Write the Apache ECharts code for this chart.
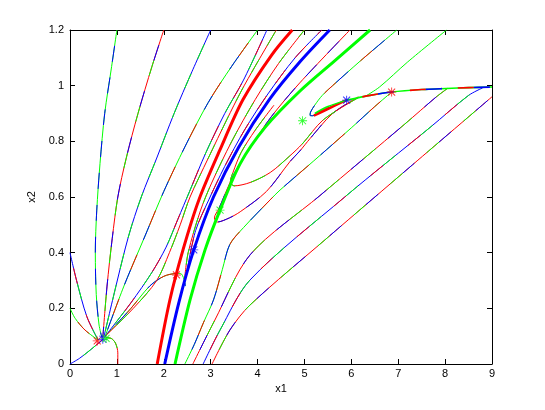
<!DOCTYPE html>
<html>
<head>
<meta charset="utf-8">
<script src="https://cdn.jsdelivr.net/npm/echarts@6/dist/echarts.min.js"></script>
<style>
html, body { margin: 0; padding: 0; background: #fff; }
#chart { width: 545px; height: 410px; }
</style>
</head>
<body>
<div id="chart"></div>
<script>
// thick separatrices
const thickRed   = [[1.86,0],[2.13,0.23],[2.41,0.41],[2.75,0.59],[3.2,0.77],[3.69,0.95],[4.3,1.11],[4.74,1.2]]
const thickBlue  = [[2.02,0],[2.32,0.22],[2.64,0.41],[3.06,0.6],[3.6,0.78],[4.25,0.95],[4.9,1.085],[5.54,1.2]]
const thickGreen = [[2.24,0],[2.56,0.23],[2.88,0.41],[3.2,0.553],[3.63,0.72],[4.16,0.85],[4.9,0.98],[5.65,1.09],[6.4,1.2]]

// curves into the node near (0.7, 0.09)
const n1 = [[1.0,1.2],[0.88,1.06],[0.74,0.9],[0.64,0.72],[0.57,0.55],[0.54,0.4],[0.56,0.25],[0.62,0.14],[0.68,0.095]]
const n2 = [[2.0,1.2],[1.75,1.07],[1.45,0.9],[1.2,0.74],[1.02,0.6],[0.9,0.45],[0.79,0.28],[0.7,0.095]]
const n3 = [[3.0,1.2],[2.6,1.05],[2.22,0.9],[1.85,0.74],[1.52,0.6],[1.25,0.46],[0.98,0.28],[0.72,0.095]]
const n4 = [[4.0,1.2],[3.45,1.07],[2.95,0.94],[2.45,0.78],[2.0,0.62],[1.6,0.46],[1.15,0.28],[0.74,0.095]]
const w1 = [[0,0.4],[0.14,0.3],[0.36,0.17],[0.6,0.086]]
const w2 = [[0,0.2],[0.11,0.164],[0.32,0.122],[0.6,0.086]]
const w3 = [[0,0],[0.2,0.02],[0.43,0.05],[0.7,0.088]]
const w4 = [[1.02,0],[1.02,0.04],[0.97,0.075],[0.88,0.092],[0.77,0.095]]

// bundle leaving the node to the upper right
const b1 = [[0.75,0.1],[1.3,0.2],[1.7,0.28],[2.0,0.315],[2.27,0.325],[2.36,0.325],[2.43,0.305],[2.46,0.28]]
const b2 = [[0.75,0.1],[1.3,0.22],[1.75,0.33],[2.05,0.42],[2.3,0.52],[2.55,0.62],[2.9,0.76],[3.3,0.9],[3.7,1.02],[4.2,1.2]]
const b3 = [[0.75,0.1],[1.35,0.2],[1.85,0.3],[2.12,0.4],[2.35,0.5],[2.56,0.6],[2.95,0.74],[3.35,0.88],[3.65,0.98],[3.95,1.07],[4.4,1.2]]
const m1 = [[2.44,0.3],[2.52,0.4],[2.78,0.55],[3.02,0.65],[3.45,0.8],[3.95,0.95],[4.45,1.08],[5.0,1.2]]
const m2 = [[2.5,0.34],[2.68,0.48],[2.96,0.59],[3.3,0.71],[3.72,0.84],[4.22,0.97],[4.8,1.1],[5.37,1.2]]

// loops near the green star, then up to the spindle
const loop1 = [[5.97,1.2],[4.9,1.01],[4.3,0.89],[3.85,0.78],[3.52,0.69],[3.33,0.62],[3.18,0.56],[3.08,0.525],[3.14,0.51],[3.4,0.525],[3.63,0.547],[4.19,0.62],[4.69,0.727],[4.9,0.765],[5.12,0.81],[5.6,0.9],[6.15,0.96]]
const loop2 = [[4.35,0.93],[3.95,0.84],[3.65,0.76],[3.48,0.69],[3.42,0.655],[3.5,0.64],[3.84,0.652],[4.27,0.688],[4.69,0.748],[4.95,0.79],[5.4,0.877],[6.15,0.957]]
const g1 = [[6.97,1.2],[6.2,1.09],[5.6,1.0],[5.38,0.965],[5.22,0.93],[5.13,0.905],[5.12,0.893],[5.18,0.892],[5.3,0.905],[5.6,0.928],[5.9,0.948]]
const g2 = [[8.03,1.2],[7.2,1.085],[6.6,0.995],[6.3,0.962]]
const topCurve = [[5.9,0.948],[6.4,0.965],[6.86,0.977],[7.5,0.986],[8.03,0.99],[8.5,0.993],[9.0,0.995]]
const spindleRed = [[5.2,0.892],[5.45,0.912],[5.7,0.933],[5.9,0.948]]
const spindleGreen = [[5.22,0.9],[5.5,0.925],[5.9,0.948]]

// lower right family
const a1 = [[2.45,0],[2.65,0.07],[2.85,0.15],[3.06,0.23],[3.25,0.34],[3.41,0.43],[3.7,0.49],[4.27,0.59],[4.48,0.625],[5.2,0.73],[6.01,0.85],[6.5,0.925],[6.86,0.977]]
const a2 = [[2.62,0],[3.09,0.158],[3.84,0.392],[5.33,0.605],[7.14,0.862],[7.8,0.958],[8.05,0.99]]
const a3 = [[2.84,0],[3.2,0.122],[3.84,0.302],[5.86,0.6],[7.68,0.85],[8.5,0.965],[8.8,0.992]]
const a4 = [[3.03,0],[3.41,0.122],[3.84,0.212],[5.5,0.455],[7.3,0.715],[9.0,0.96]]

// equilibria
const starsRed   = [[0.58,0.083],[2.27,0.32],[6.86,0.977]]
const starsBlue  = [[0.7,0.089],[2.64,0.41],[5.9,0.948]]
const starsGreen = [[0.77,0.092],[3.2,0.553],[4.96,0.874]]

const R = '#ff0000', G = '#00ff00', B = '#0000ff'
const starPath = 'path://M0 9H20V11H0Z M9 0H11V20H9Z M1.5 3L3 1.5L18.5 17L17 18.5Z M17 1.5L18.5 3L3 18.5L1.5 17Z'

const series = []
const addTrace = (pts, colors, width, z) => {
    const n = colors.length
    const d = 16
    series.push({
        type: 'line', data: pts, showSymbol: false, smooth: 0.3, silent: true, z: z,
        lineStyle: { color: colors[0], width: width }
    })
    for (let i = 1; i < n; i++) {
        series.push({
            type: 'line', data: pts, showSymbol: false, smooth: 0.3, silent: true, z: z,
            lineStyle: { color: colors[i], width: width, type: [d, d * (n - 1)], dashOffset: i * d }
        })
    }
}

addTrace(n1, [G, B], 1, 2)
addTrace(n2, [R, G, B], 1, 2)
addTrace(n3, [B, G], 1, 2)
addTrace(n4, [G, B, R], 1, 2)
addTrace(w1, [B, G, R], 1, 2)
addTrace(w2, [G, R], 1, 2)
addTrace(w3, [B, R, G], 1, 2)
addTrace(w4, [R, B, G], 1, 2)
addTrace(b1, [G, R, B], 1, 2)
addTrace(b2, [B, R, G], 1, 2)
addTrace(b3, [R, G], 1, 2)
addTrace(m1, [R, G], 1, 2)
addTrace(m2, [B, R], 1, 2)
addTrace(loop1, [R, B], 1, 2)
addTrace(loop2, [R, G], 1, 2)
addTrace(g1, [G, R, B], 1, 2)
addTrace(g2, [G], 1, 2)
addTrace(a1, [G, R, B], 1, 2)
addTrace(a2, [R, G, B], 1, 2)
addTrace(a3, [B, G, R], 1, 2)
addTrace(a4, [R, B, G], 1, 2)
addTrace(topCurve, [G, B, R], 1.6, 3)
addTrace(spindleRed, [R], 2.5, 3)
addTrace(spindleGreen, [G], 1.5, 3)
addTrace(thickRed, [R], 3, 4)
addTrace(thickBlue, [B], 3, 4)
addTrace(thickGreen, [G], 3, 4)

const addStars = (pts, color) => {
    series.push({
        type: 'scatter', data: pts, symbol: starPath, symbolSize: 9, silent: true, z: 5,
        itemStyle: { color: color }
    })
}
addStars(starsRed, R)
addStars(starsBlue, B)
addStars(starsGreen, G)

const axisFont = { color: '#000', fontSize: 11, fontFamily: 'Liberation Sans, Arial, sans-serif' }
const boxLine = { show: true, onZero: false, lineStyle: { color: '#000', width: 1 } }
const tickIn = { show: true, inside: true, length: 5, lineStyle: { color: '#000' } }

const option = {
    animation: false,
    backgroundColor: '#fff',
    grid: { left: 70, right: 53, top: 30, bottom: 46 },
    xAxis: [
        {
            type: 'value', min: 0, max: 9, interval: 1, position: 'bottom',
            name: 'x1', nameLocation: 'middle', nameGap: 18, nameTextStyle: axisFont,
            axisLine: boxLine, axisTick: tickIn, splitLine: { show: false },
            axisLabel: Object.assign({ margin: 4 }, axisFont)
        },
        {
            type: 'value', min: 0, max: 9, interval: 1, position: 'top',
            axisLine: boxLine, axisTick: tickIn, splitLine: { show: false },
            axisLabel: { show: false }
        }
    ],
    yAxis: [
        {
            type: 'value', min: 0, max: 1.2, interval: 0.2, position: 'left',
            name: 'x2', nameLocation: 'middle', nameGap: 28, nameTextStyle: axisFont,
            axisLine: boxLine, axisTick: tickIn, splitLine: { show: false },
            axisLabel: Object.assign({ margin: 6, formatter: v => String(parseFloat(v.toFixed(1))) }, axisFont)
        },
        {
            type: 'value', min: 0, max: 1.2, interval: 0.2, position: 'right',
            axisLine: boxLine, axisTick: tickIn, splitLine: { show: false },
            axisLabel: { show: false }
        }
    ],
    series: series
}

const myChart = echarts.init(document.getElementById('chart'))
myChart.setOption(option)
</script>
</body>
</html>
